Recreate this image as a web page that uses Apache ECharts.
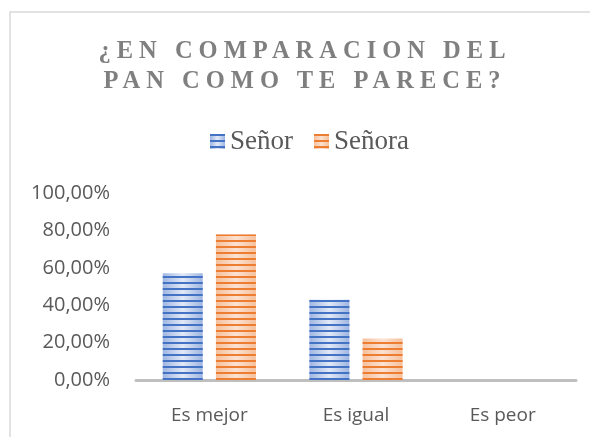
<!doctype html>
<html>
<head>
<meta charset="utf-8">
<script src="https://cdn.jsdelivr.net/npm/echarts@6/dist/echarts.min.js"></script>
<style>
  html, body { margin: 0; padding: 0; background: #fff; }
  #wrap { position: relative; width: 590px; height: 437px; overflow: hidden; }
  #chart { width: 590px; height: 437px; }
  #title {
    position: absolute; left: 0; top: 35px; width: 610px;
    text-align: center; font-family: "Liberation Serif", serif; font-weight: bold;
    font-size: 24.5px; line-height: 30px; letter-spacing: 6px; color: #7f7f7f;
    pointer-events: none;
  }
</style>
</head>
<body>
<div id="wrap">
  <div id="chart"></div>
  <div id="title">¿EN COMPARACION DEL<br>PAN COMO TE PARECE?</div>
</div>
<script>
  var categories = ['Es mejor', 'Es igual', 'Es peor'];
  var senor = [0.5714, 0.4286, 0];
  var senora = [0.7778, 0.2222, 0];
  var yTicks = [0, 0.2, 0.4, 0.6, 0.8, 1];

  function pct(v) {
    return (v * 100).toFixed(2).replace('.', ',') + '%';
  }

  var myChart = echarts.init(document.getElementById('chart'));
  var option = {
    animation: false,
    graphic: [{
      type: 'rect',
      shape: { x: 10, y: 12, width: 620, height: 460 },
      style: { fill: 'none', stroke: '#d9d9d9', lineWidth: 1.5 }
    }],
    legend: {
      left: 205,
      top: 123,
      itemWidth: 15,
      itemHeight: 15,
      itemGap: 21,
      icon: 'rect',
      textStyle: { fontFamily: 'Liberation Serif', fontSize: 27, color: '#595959' },
      data: ['Señor', 'Señora']
    },
    grid: { left: 136, right: 14, top: 193, bottom: 57 },
    xAxis: {
      type: 'category',
      data: categories,
      axisLine: { lineStyle: { color: '#bfbfbf', width: 3 } },
      axisTick: { show: false },
      axisLabel: { color: '#595959', fontFamily: 'Open Sans', fontSize: 19, margin: 26 }
    },
    yAxis: {
      type: 'value',
      min: yTicks[0],
      max: yTicks[yTicks.length - 1],
      interval: 0.2,
      axisLine: { show: false },
      axisTick: { show: false },
      splitLine: { show: false },
      axisLabel: {
        color: '#595959', fontFamily: 'Open Sans', fontSize: 20, margin: 26,
        formatter: pct
      }
    },
    series: [{
      name: 'Señor',
      type: 'bar',
      data: senor,
      barWidth: 40,
      barGap: '33%',
      itemStyle: {
        color: new echarts.graphic.LinearGradient(0, 0, 1, 0, [
          { offset: 0, color: '#9fb6e2' },
          { offset: 0.5, color: '#e2e9f6' },
          { offset: 1, color: '#9fb6e2' }
        ]),
        decal: { symbol: 'rect', color: '#4472c4', dashArrayX: [1, 0], dashArrayY: [2, 4], symbolSize: 1, rotation: 0 }
      }
    }, {
      name: 'Señora',
      type: 'bar',
      data: senora,
      barWidth: 40,
      itemStyle: {
        color: new echarts.graphic.LinearGradient(0, 0, 1, 0, [
          { offset: 0, color: '#f6c09c' },
          { offset: 0.5, color: '#fbe2d2' },
          { offset: 1, color: '#f6c09c' }
        ]),
        decal: { symbol: 'rect', color: '#ed7d31', dashArrayX: [1, 0], dashArrayY: [2, 4], symbolSize: 1, rotation: 0 }
      }
    }]
  };
  myChart.setOption(option);
</script>
</body>
</html>
